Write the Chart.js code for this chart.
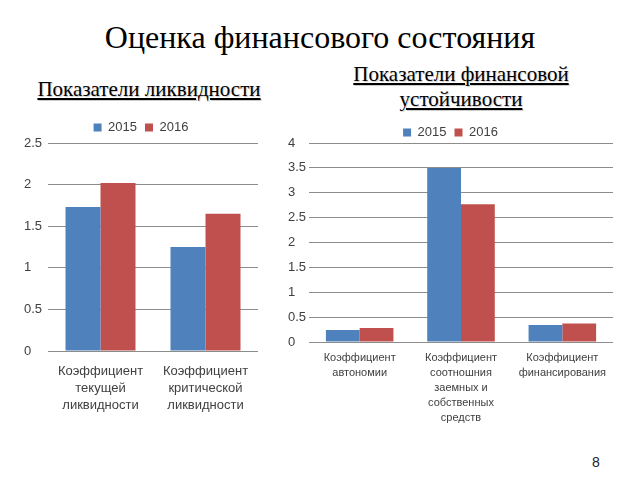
<!DOCTYPE html>
<html lang="ru">
<head>
<meta charset="UTF-8">
<title>Оценка финансового состояния</title>
<script src="https://cdn.jsdelivr.net/npm/chart.js"></script>
<style>
    body { margin: 0; background: #fff; }
    .slide { position: relative; width: 640px; height: 480px; overflow: hidden; font-family: 'Liberation Serif', serif; }
    .title { position: absolute; left: 0; width: 640px; top: 19px; text-align: center; font-size: 32px; color: #000; }
    .sub { position: absolute; text-align: center; font-size: 21px; text-decoration: underline; line-height: 25px; color: #000; text-shadow: 1px 1px 1px #ccc; }
    .page { position: absolute; left: 592px; top: 454px; font-family: 'Liberation Sans', sans-serif; font-size: 14px; color: #222; }
    .box { position: absolute; }
</style>
</head>
<body>
<div class="slide">
    <div class="title">Оценка финансового состояния</div>
    <div class="sub" style="left:0; width:298px; top:77px;">Показатели ликвидности</div>
    <div class="sub" style="left:310px; width:302px; top:62px;">Показатели финансовой<br>устойчивости</div>

    <div class="box" style="left:0; top:110px; width:270px; height:310px;"><canvas id="liqChart"></canvas></div>
    <div class="box" style="left:280px; top:110px; width:340px; height:320px;"><canvas id="stabChart"></canvas></div>

    <div class="page">8</div>
</div>
<script>
// Показатели ликвидности
const liqLabels = [
    ['Коэффициент', 'текущей', 'ликвидности'],
    ['Коэффициент', 'критической', 'ликвидности']
];
const liq2015 = [1.73, 1.25];
const liq2016 = [2.02, 1.65];

// Показатели финансовой устойчивости
const stabLabels = [
    ['Коэффициент', 'автономии'],
    ['Коэффициент', 'соотношния', 'заемных и', 'собственных', 'средств'],
    ['Коэффициент', 'финансирования']
];
const stab2015 = [0.24, 3.5, 0.34];
const stab2016 = [0.28, 2.77, 0.37];

const seriesNames = ['2015', '2016'];
const BLUE = '#4F81BD';
const RED = '#C0504D';

// fixes legend height so the plot area lands where it should
function legendHeight(h) {
    return {
        id: 'legendHeight',
        beforeInit(chart) {
            const fit = chart.legend.fit;
            chart.legend.fit = function () {
                fit.call(this);
                this.height = h;
            };
        }
    };
}

function makeChart(id, labels, a, b, cfg) {
    return new Chart(document.getElementById(id), {
        type: 'bar',
        data: {
            labels: labels,
            datasets: [
                { label: seriesNames[0], data: a, backgroundColor: BLUE },
                { label: seriesNames[1], data: b, backgroundColor: RED }
            ]
        },
        options: {
            responsive: true,
            maintainAspectRatio: false,
            animation: false,
            layout: { padding: { left: cfg.padLeft, right: cfg.padRight, top: cfg.padTop, bottom: 0 } },
            datasets: { bar: { categoryPercentage: 2 / 3, barPercentage: 1 } },
            plugins: {
                tooltip: { enabled: false },
                legend: {
                    position: 'top',
                    labels: {
                        boxWidth: 8, boxHeight: 8, padding: 8,
                        color: '#404040',
                        font: { family: 'Liberation Sans', size: 13 }
                    }
                }
            },
            scales: {
                x: {
                    grid: { display: false },
                    border: { display: false },
                    ticks: {
                        color: '#404040',
                        maxRotation: 0,
                        autoSkip: false,
                        padding: cfg.xPad,
                        font: { family: 'Liberation Sans', size: cfg.xFont, lineHeight: cfg.xLine }
                    },
                    afterFit: s => { s.height = cfg.xHeight; }
                },
                y: {
                    min: 0,
                    max: cfg.yMax,
                    grid: { color: '#8c8c8c', drawTicks: false },
                    border: { display: false },
                    ticks: {
                        stepSize: 0.5,
                        crossAlign: 'far',
                        padding: 0,
                        color: '#404040',
                        font: { family: 'Liberation Sans', size: 13 },
                        callback: v => String(v)
                    },
                    afterFit: s => { s.width = cfg.yWidth; }
                }
            }
        },
        plugins: [legendHeight(cfg.legendH)]
    });
}

makeChart('liqChart', liqLabels, liq2015, liq2016, {
    padLeft: 24, padRight: 12, padTop: 3, yWidth: 24, yMax: 2.5,
    xHeight: 69, xPad: 4, xFont: 13, xLine: 1.3, legendH: 30
});

makeChart('stabChart', stabLabels, stab2015, stab2016, {
    padLeft: 8, padRight: 7, padTop: 8, yWidth: 21, yMax: 4,
    xHeight: 88, xPad: 1, xFont: 11, xLine: 1.35, legendH: 25
});
</script>
</body>
</html>
